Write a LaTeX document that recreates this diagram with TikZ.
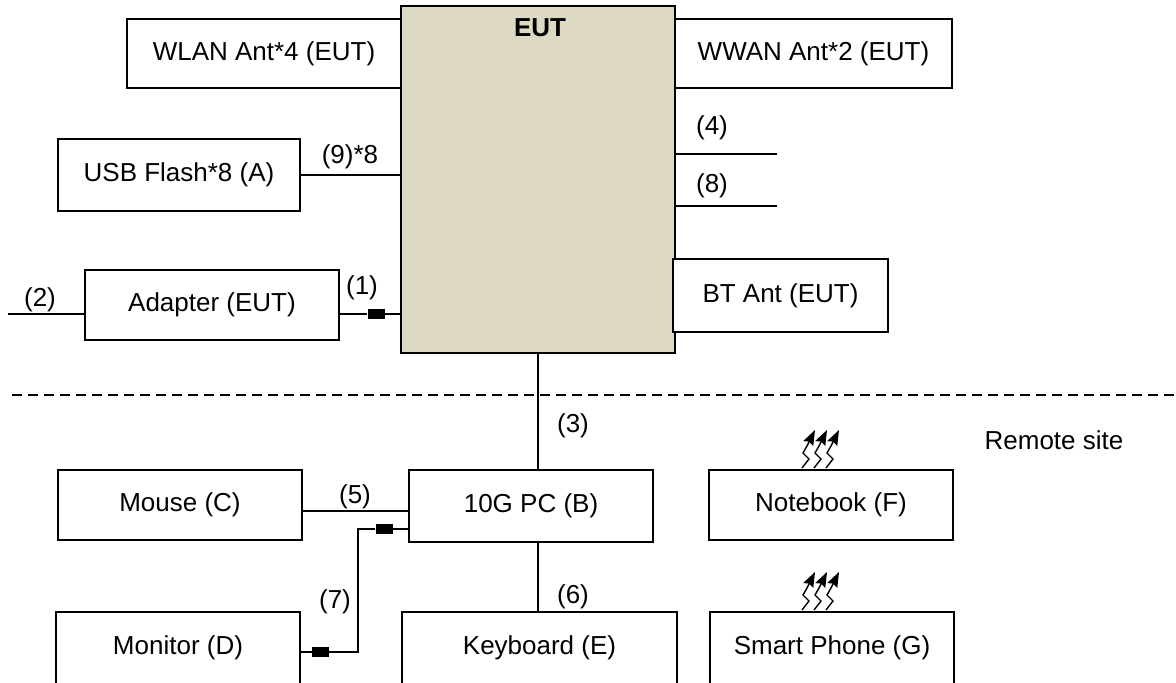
\documentclass[tikz,border=0pt]{standalone}
\usepackage{fontspec}
\setmainfont{Liberation Sans}
\usetikzlibrary{arrows.meta,calc}
\definecolor{eutfill}{RGB}{221,217,195}
\begin{document}
\begin{tikzpicture}[x=1pt,y=-1pt,
  every node/.style={font=\fontsize{26}{31}\selectfont},
  box/.style={draw,line width=1.9pt,fill=white,inner sep=0pt},
  wire/.style={line width=1.9pt},
  ferrite/.style={fill=black,draw=none,minimum width=17pt,minimum height=10pt,inner sep=0pt},
  radio/.pic={\foreach \dx in {0,12,24}{\draw[line width=1.4pt,-{Stealth[length=15pt,width=11pt,inset=2pt]}] (\dx,0) -- ++(7,-9) -- ++(-6,-6) -- ++(4,-7) -- ++(8,-16);}}
]
\clip (0,0) rectangle (1176,683);
\fill[white] (0,0) rectangle (1176,683);

% top part
\node[box,minimum width=274pt,minimum height=69pt] (wlan) at (264,53.5) {WLAN Ant*4 (EUT)};
\node[box,fill=eutfill,minimum width=274pt,minimum height=347pt] (eut) at (538,179.5) {};
\node[font=\bfseries\fontsize{26}{31}\selectfont] (eutlabel) at (540,28) {EUT};
\node[box,minimum width=277pt,minimum height=69pt] (wwan) at (813.5,53.5) {WWAN Ant*2 (EUT)};
\node[box,minimum width=242pt,minimum height=72pt] (usb) at (179,175) {USB Flash*8 (A)};
\node[box,minimum width=254pt,minimum height=70pt] (adapter) at (212,305) {Adapter (EUT)};
\node[box,minimum width=215pt,minimum height=73pt] (bt) at (780.5,295.5) {BT Ant (EUT)};

% bottom part
\node[box,minimum width=244pt,minimum height=72pt] (pc) at (531,506) {10G PC (B)};
\node[box,minimum width=244pt,minimum height=70pt] (mouse) at (180,505) {Mouse (C)};
\node[box,minimum width=244pt,minimum height=70pt] (notebook) at (831,505) {Notebook (F)};
\node[box,minimum width=275pt,minimum height=72pt] (keyboard) at (539.5,648) {Keyboard (E)};
\node[box,minimum width=244pt,minimum height=72pt] (monitor) at (178,648) {Monitor (D)};
\node[box,minimum width=244pt,minimum height=72pt] (phone) at (832,648) {Smart Phone (G)};

\node (remote) at (1054,440) {Remote site};

% connectors top
\draw[wire] (usb.east) -- (eut.west |- usb.east);
\node (l9) at (350,157) {(9)*8};

\node[ferrite] (f1) at (376,314) {};
\path ([yshift=-9pt]adapter.east) coordinate (a1);
\draw[wire] (a1) -- (f1) -- (eut.west |- f1);
\node (l1) at (362,288) {(1)};

\coordinate (e2) at (8,314);
\draw[wire] (e2) -- (adapter.west |- e2);
\node (l2) at (40,300) {(2)};

\coordinate (e4) at (777,154);
\draw[wire] (eut.east |- e4) -- (e4);
\node (l4) at (712,128) {(4)};
\coordinate (e8) at (777,206);
\draw[wire] (eut.east |- e8) -- (e8);
\node (l8) at (712,186) {(8)};

% dashed separator
\coordinate (d1) at (12,395);
\coordinate (d2) at (1176,395);
\draw[line width=1.9pt,dash pattern=on 10pt off 6pt] (d1) -- (d2);

% connectors bottom
\draw[wire] (eut.south) -- (eut.south |- pc.north);
\node (l3) at (573,426) {(3)};
\draw[wire] (eut.south |- pc.south) -- (eut.south |- keyboard.north);
\node (l6) at (573,597) {(6)};

\path ([yshift=-6pt]mouse.east) coordinate (m5);
\draw[wire] (m5) -- (pc.west |- m5);
\node (l5) at (355,497) {(5)};

\node[ferrite] (f3) at (320.5,652) {};
\node[ferrite] (f4) at (384,529) {};
\coordinate (c7) at (358,652);
\draw[wire] (monitor.east |- f3) -- (f3) -- (c7) |- (f4) -- (pc.west |- f4);
\node (l7) at (335,602) {(7)};

% wireless symbols
\pic at (802,468) {radio};
\pic at (802,610) {radio};
\end{tikzpicture}
\end{document}
